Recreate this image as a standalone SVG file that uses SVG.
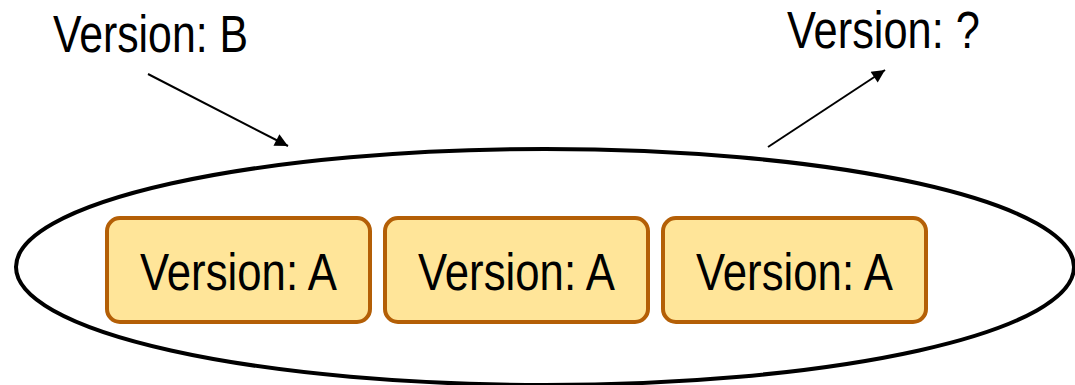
<svg xmlns="http://www.w3.org/2000/svg" width="1075" height="385" viewBox="0 0 1075 385">
<style>
.lbl{font-family:"Liberation Sans Narrow","Liberation Sans",Arial,sans-serif;font-size:51px;fill:#000}
.box{fill:#ffe599;stroke:#b45f06;stroke-width:4}
.conn{stroke:#000;stroke-width:2;fill:none}
</style>
<defs>
<marker id="ah" viewBox="0 0 10 10" refX="10" refY="5" markerWidth="9" markerHeight="9" markerUnits="userSpaceOnUse" orient="auto">
<path d="M0,0 L10,5 L0,10 z" fill="#000"/>
</marker>
<marker id="ah2" viewBox="0 0 10 10" refX="10" refY="5" markerWidth="10" markerHeight="6.5" orient="auto" markerUnits="strokeWidth">
<path d="M0,0 L10,5 L0,10 z" fill="#000"/>
</marker>
</defs>
<rect width="1075" height="385" fill="#fff"/>
<g id="group">
<ellipse cx="545" cy="267" rx="529" ry="118" fill="none" stroke="#000" stroke-width="4"/>
</g>
<g id="labelB"><text class="lbl" x="53" y="52" textLength="195" lengthAdjust="spacingAndGlyphs">Version: B</text></g>
<g id="labelQ"><text class="lbl" x="787" y="48" textLength="193" lengthAdjust="spacingAndGlyphs">Version: ?</text></g>
<g id="node1"><rect class="box" x="107" y="218" width="263" height="104" rx="13"/><text class="lbl" x="140" y="290" textLength="197" lengthAdjust="spacingAndGlyphs">Version: A</text></g>
<g id="node2"><rect class="box" x="385" y="218" width="263" height="104" rx="13"/><text class="lbl" x="418" y="290" textLength="197" lengthAdjust="spacingAndGlyphs">Version: A</text></g>
<g id="node3"><rect class="box" x="663" y="218" width="263" height="104" rx="13"/><text class="lbl" x="696" y="290" textLength="197" lengthAdjust="spacingAndGlyphs">Version: A</text></g>
<g id="connectors">
<line class="conn" x1="148" y1="74" x2="288" y2="146" marker-end="url(#ah2)"/>
<line class="conn" x1="768" y1="147" x2="885" y2="70" marker-end="url(#ah2)"/>
</g>
</svg>
